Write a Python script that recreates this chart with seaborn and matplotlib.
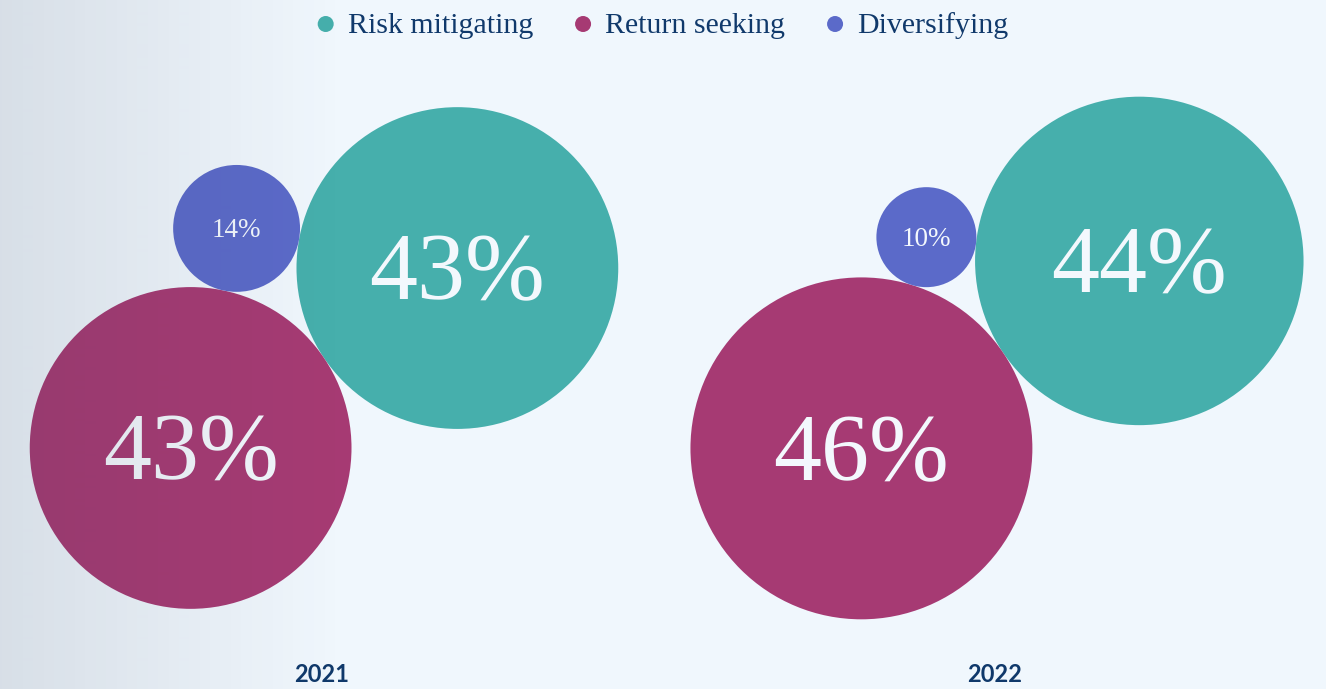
import numpy as np
import pandas as pd
import matplotlib
matplotlib.use("Agg")
import matplotlib.pyplot as plt
import seaborn as sns

# ---- data -------------------------------------------------------------
years = ["2021", "2022"]
categories = ["Risk mitigating", "Return seeking", "Diversifying"]
shares_2021 = [43, 43, 14]
shares_2022 = [44, 46, 10]

# ---- style ------------------------------------------------------------
palette = {"Risk mitigating": "#46AFAC",
           "Return seeking": "#A63A73",
           "Diversifying": "#5B6AC9"}
NAVY = "#10396B"
BG = "#F0F7FD"
LABEL = "#F3F8FD"

W, H, DPI = 1326, 689, 100
sns.set_theme(style="white")
plt.rcParams["font.family"] = ["Liberation Serif", "DejaVu Serif"]


def radius(v):
    """Bubble radius in pixels for a share value."""
    return 16.4 + 3.36 * v


def pack(values, cx, cy, angle_deg=-34.0):
    """Pack three bubbles: return seeking lower-left, risk mitigating
    upper-right touching it, diversifying tucked into the notch above."""
    r = np.array([radius(v) for v in values])
    a = np.deg2rad(angle_deg)
    p_ret = np.array([0.0, 0.0])
    p_risk = p_ret + (r[0] + r[1]) * np.array([np.cos(a), np.sin(a)])
    d1, d2 = r[1] + r[2], r[0] + r[2]
    base = p_risk - p_ret
    L = np.linalg.norm(base)
    u = base / L
    along = (d1 ** 2 - d2 ** 2 + L ** 2) / (2 * L)
    h = np.sqrt(max(d1 ** 2 - along ** 2, 0.0))
    n = np.array([u[1], -u[0]])
    c1 = p_ret + along * u + h * n
    c2 = p_ret + along * u - h * n
    p_div = c1 if c1[1] < c2[1] else c2
    pts = np.array([p_risk, p_ret, p_div])
    xmin, xmax = (pts[:, 0] - r).min(), (pts[:, 0] + r).max()
    ymin, ymax = (pts[:, 1] - r).min(), (pts[:, 1] + r).max()
    pts[:, 0] += cx - (xmin + xmax) / 2
    pts[:, 1] += cy - (ymin + ymax) / 2
    return pts, r


group_x = [324, 997]
group_y = 358

rows = []
for year, shares, gx in zip(years, [shares_2021, shares_2022], group_x):
    pts, r = pack(shares, gx, group_y)
    for cat, v, (px, py), rr in zip(categories, shares, pts, r):
        rows.append(dict(year=year, category=cat, share=v, x=px, y=py, r=rr))
df = pd.DataFrame(rows)
# marker area in points^2: diameter (px) -> points
df["s"] = (2 * df["r"] * 72 / DPI) ** 2

fig = plt.figure(figsize=(W / DPI, H / DPI), dpi=DPI)
fig.patch.set_facecolor(BG)
ax = fig.add_axes([0, 0, 1, 1])
ax.set_facecolor(BG)

sns.scatterplot(data=df, x="x", y="y", hue="category", palette=palette,
                s=df["s"].values, linewidth=0, legend=False, ax=ax, zorder=3)

# percentage labels inside the bubbles
for _, row in df.iterrows():
    fs = 69 if row["share"] >= 20 else 19.5
    em = fs * DPI / 72
    ax.text(row["x"], row["y"] + 0.33 * em, f"{row['share']}%",
            ha="center", va="baseline", fontsize=fs, color=LABEL,
            family=["Liberation Serif", "DejaVu Serif"], zorder=5)

# year captions
for year, gx in zip(years, group_x):
    ax.text(gx - 2, 682, year, ha="center", va="baseline", fontsize=17,
            fontweight="bold", color=NAVY, family=["Lato", "DejaVu Sans"],
            zorder=5)

# legend row across the top, centred on the figure
fig.canvas.draw()
renderer = fig.canvas.get_renderer()
leg_fs = 21.5
texts = []
for cat in categories:
    t = ax.text(0, 33, cat, ha="left", va="baseline", fontsize=leg_fs,
                color=NAVY, family=["Liberation Serif", "DejaVu Serif"],
                zorder=5)
    texts.append(t)
widths = [t.get_window_extent(renderer).width for t in texts]
dot_r, text_off, item_gap = 8, 30, 42
total = sum(widths) + len(widths) * text_off + (len(widths) - 1) * item_gap
xpos = W / 2 - total / 2
dots_x = []
for t, w in zip(texts, widths):
    dots_x.append(xpos + dot_r)
    t.set_x(xpos + text_off)
    xpos += text_off + w + item_gap
legend_df = pd.DataFrame({"x": dots_x, "y": [24] * 3, "category": categories})
sns.scatterplot(data=legend_df, x="x", y="y", hue="category",
                palette=palette, s=(2 * dot_r * 72 / DPI) ** 2, linewidth=0,
                legend=False, ax=ax, zorder=5)

# soft shading along the left edge
grad = np.zeros((1, W, 4))
xs = np.arange(W)
grad[0, :, :3] = np.array([50, 60, 85]) / 255
grad[0, :, 3] = np.clip(0.13 * (1 - xs / 345), 0, None)
ax.imshow(grad, extent=(0, W, H, 0), aspect="auto", zorder=10,
          interpolation="bilinear")

ax.set_xlim(0, W)
ax.set_ylim(H, 0)
ax.axis("off")
fig.savefig("out.png", dpi=DPI, facecolor=BG)
